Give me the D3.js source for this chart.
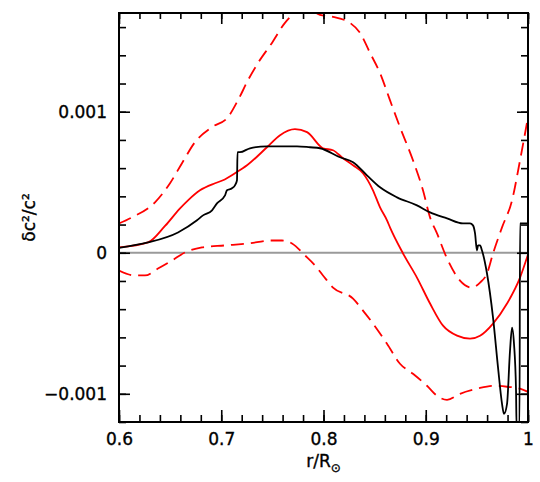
<!DOCTYPE html>
<html>
<head>
<meta charset="utf-8">
<script src="https://cdn.jsdelivr.net/npm/d3@7"></script>
<style>
  body { margin: 0; background: #fff; }
  svg { display: block; font-family: "DejaVu Sans", sans-serif; }
  text { stroke: #000; stroke-width: 0.35px; }
</style>
</head>
<body>
<script>
// Sound-speed difference profiles
// each series is [r/Rsun, dc2/c2]
var blackModel = [
  [0.600, 0.000035], [0.6284, 0.000073], [0.6577, 0.000144], [0.6763, 0.000230],
  [0.6822, 0.000265], [0.6910, 0.000301], [0.6958, 0.000350], [0.7037, 0.000407],
  [0.7056, 0.000443], [0.7105, 0.000457], [0.7134, 0.000478], [0.7154, 0.000514],
  [0.7159, 0.000713], [0.7183, 0.000713], [0.7281, 0.000741], [0.7447, 0.000755],
  [0.7594, 0.000755], [0.7741, 0.000755], [0.7868, 0.000748], [0.7966, 0.000741],
  [0.8161, 0.000677], [0.8289, 0.000642], [0.8425, 0.000549], [0.8553, 0.000464],
  [0.8719, 0.000393], [0.8914, 0.000336], [0.9042, 0.000286], [0.9208, 0.000244],
  [0.9364, 0.000208], [0.9433, 0.000208], [0.9462, 0.000194], [0.9482, 0.000137],
  [0.9501, 0.000016], [0.9511, 0.000052], [0.9531, 0.000052], [0.9550, 0.000016],
  [0.9599, -0.000147], [0.9658, -0.000460], [0.9707, -0.000815], [0.9746, -0.001071],
  [0.9765, -0.001142], [0.9795, -0.001071], [0.9824, -0.000695], [0.9844, -0.000531],
  [0.9863, -0.000645], [0.9883, -0.000979], [0.9888, -0.00123], [0.9917, -0.00123],
  [0.9922, 0.000208], [1.000, 0.000208]
];

var redModel = [
  [0.600, 0.000038], [0.6284, 0.000073], [0.6450, 0.000190], [0.6597, 0.000315],
  [0.6675, 0.000372], [0.6792, 0.000443], [0.6939, 0.000493], [0.7017, 0.000514],
  [0.7134, 0.000564], [0.7252, 0.000620], [0.7447, 0.000748], [0.7575, 0.000834],
  [0.7721, 0.000876], [0.7839, 0.000855], [0.7995, 0.000741], [0.8093, 0.000727],
  [0.8191, 0.000670], [0.8289, 0.000620], [0.8386, 0.000564], [0.8484, 0.000443],
  [0.8553, 0.000322], [0.8621, 0.000230], [0.8650, 0.000180], [0.8778, -0.000005],
  [0.8914, -0.000176], [0.9042, -0.000360], [0.9169, -0.000517], [0.9306, -0.000588],
  [0.9433, -0.000609], [0.9531, -0.000588], [0.9658, -0.000502], [0.9795, -0.000360],
  [0.9922, -0.000176], [1.000, -0.000012]
];

var redUpper = [
  [0.600, 0.000208], [0.6127, 0.000251], [0.6352, 0.000358], [0.6499, 0.000493],
  [0.6616, 0.000635], [0.6743, 0.000784], [0.6910, 0.000891], [0.7066, 0.000962],
  [0.7164, 0.001082], [0.7262, 0.001224], [0.7359, 0.001345], [0.7496, 0.001488],
  [0.7623, 0.001630], [0.7721, 0.001701], [0.7839, 0.001729], [0.7966, 0.001687],
  [0.8093, 0.001672], [0.8259, 0.001630], [0.8357, 0.001559], [0.8455, 0.001417],
  [0.8553, 0.001274], [0.8650, 0.001082], [0.8748, 0.000891], [0.8875, 0.000656],
  [0.8973, 0.000443], [0.9042, 0.000251], [0.9110, 0.000137], [0.9208, -0.000040],
  [0.9335, -0.000197], [0.9452, -0.000247], [0.9531, -0.000211], [0.9599, -0.000147],
  [0.9658, -0.000005], [0.9746, 0.000180], [0.9844, 0.000372], [0.9922, 0.000655],
  [1.000, 0.000961]
];

var redLower = [
  [0.600, -0.000126], [0.6156, -0.000161], [0.6254, -0.000161], [0.6381, -0.000112],
  [0.6518, -0.000055], [0.6645, 0.000002], [0.6812, 0.000038], [0.7037, 0.000052],
  [0.7262, 0.000066], [0.7496, 0.000087], [0.7594, 0.000087], [0.7692, 0.000066],
  [0.7819, -0.000019], [0.7917, -0.000090], [0.7995, -0.000161], [0.8093, -0.000247],
  [0.8289, -0.000325], [0.8386, -0.000410], [0.8484, -0.000502], [0.8621, -0.000645],
  [0.8748, -0.000787], [0.8875, -0.000858], [0.9012, -0.000943], [0.9110, -0.001014],
  [0.9208, -0.001043], [0.9335, -0.001000], [0.9501, -0.000964], [0.9658, -0.000943],
  [0.9795, -0.000950], [0.9922, -0.000964], [1.000, -0.000986]
];

// Tick labels
var xTicks = [0.6, 0.7, 0.8, 0.9, 1.0];
var xTickLabels = ["0.6", "0.7", "0.8", "0.9", "1"];
var yTicks = [-0.001, 0, 0.001];
var yTickLabels = ["\u22120.001", "0", "0.001"];

// Chart stuff
var width = 540,
    height = 482;
var margin = {top: 13, left: 119},
    plotW = 409,
    plotH = 409;

var x = d3.scaleLinear().domain([0.6, 1.0]).range([0, plotW]);
var y = d3.scaleLinear().domain([-0.0012, 0.0017]).range([plotH, 0]);

var svg = d3.select("body").append("svg")
    .attr("width", width)
    .attr("height", height);

var g = svg.append("g")
    .attr("transform", "translate(" + margin.left + "," + margin.top + ")");

g.append("clipPath").attr("id", "plotclip")
  .append("rect")
    .attr("width", plotW)
    .attr("height", plotH);

// zero line
g.append("line")
    .attr("x1", 0).attr("x2", plotW)
    .attr("y1", y(0)).attr("y2", y(0))
    .attr("stroke", "#9a9a9a")
    .attr("stroke-width", 2);

var line = d3.line()
    .x(function(d) { return x(d[0]); })
    .y(function(d) { return y(d[1]); })
    .curve(d3.curveMonotoneX);

var curves = g.append("g").attr("clip-path", "url(#plotclip)");

function addCurve(data, color, dash) {
    curves.append("path")
        .datum(data)
        .attr("d", line)
        .attr("fill", "none")
        .attr("stroke", color)
        .attr("stroke-width", 1.8)
        .attr("stroke-dasharray", dash)
        .attr("stroke-linejoin", "round");
}

addCurve(redUpper, "#ff0000", "13,7");
addCurve(redLower, "#ff0000", "13,7");
addCurve(redModel, "#ff0000", null);
addCurve(blackModel, "#000000", null);

// Axes: minor + major ticks on all four sides, pointing inward
function styleAxis(sel) {
    sel.select(".domain").remove();
    sel.selectAll(".tick line").attr("stroke", "#000").attr("stroke-width", 1.6);
    sel.selectAll("text").attr("fill", "#000").style("font-size", "17px")
        .style("font-family", "'DejaVu Sans', sans-serif");
}

var xMinor = x.ticks(20);
var yMinor = y.ticks(15);

g.append("g").attr("transform", "translate(0," + plotH + ")")
    .call(d3.axisBottom(x).tickValues(xMinor).tickSize(-7).tickFormat(""))
    .call(styleAxis);
g.append("g").attr("transform", "translate(0," + plotH + ")")
    .call(d3.axisBottom(x).tickValues(xTicks).tickSize(-12).tickPadding(11)
        .tickFormat(function(d, i) { return xTickLabels[i]; }))
    .call(styleAxis);
g.append("g")
    .call(d3.axisTop(x).tickValues(xMinor).tickSize(-6).tickFormat(""))
    .call(styleAxis);
g.append("g")
    .call(d3.axisTop(x).tickValues(xTicks).tickSize(-11).tickFormat(""))
    .call(styleAxis);

g.append("g")
    .call(d3.axisLeft(y).tickValues(yMinor).tickSize(-7).tickFormat(""))
    .call(styleAxis);
g.append("g")
    .call(d3.axisLeft(y).tickValues(yTicks).tickSize(-11).tickPadding(12)
        .tickFormat(function(d, i) { return yTickLabels[i]; }))
    .call(styleAxis);
g.append("g").attr("transform", "translate(" + plotW + ",0)")
    .call(d3.axisRight(y).tickValues(yMinor).tickSize(-7).tickFormat(""))
    .call(styleAxis);
g.append("g").attr("transform", "translate(" + plotW + ",0)")
    .call(d3.axisRight(y).tickValues(yTicks).tickSize(-11).tickFormat(""))
    .call(styleAxis);

// frame
g.append("rect")
    .attr("width", plotW)
    .attr("height", plotH)
    .attr("fill", "none")
    .attr("stroke", "#000")
    .attr("stroke-width", 2);

// axis titles
var xTitle = svg.append("text")
    .attr("x", margin.left + plotW / 2)
    .attr("y", 467)
    .attr("text-anchor", "middle")
    .style("font-size", "17px");
xTitle.append("tspan").text("r/R");
xTitle.append("tspan").attr("dy", 5).style("font-size", "12px").text("\u2299");

svg.append("text")
    .attr("transform", "translate(35," + (margin.top + plotH / 2) + ") rotate(-90)")
    .attr("text-anchor", "middle")
    .style("font-size", "17px")
    .text("\u03b4c\u00b2/c\u00b2");
</script>
</body>
</html>
